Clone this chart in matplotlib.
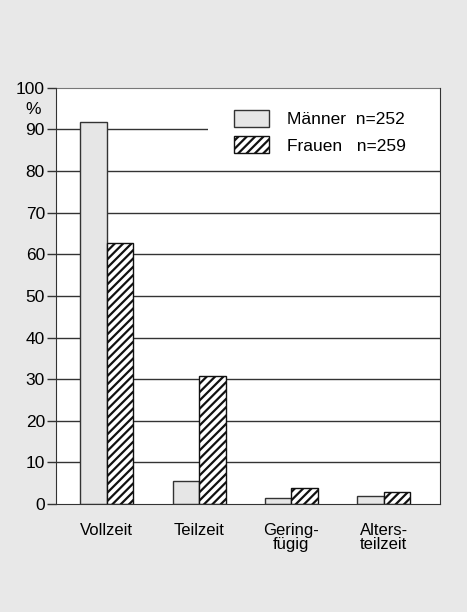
import matplotlib.pyplot as plt
from matplotlib.patches import Rectangle
import numpy as np

plt.rcParams['font.family'] = ['Liberation Sans', 'DejaVu Sans']
plt.rcParams['hatch.linewidth'] = 1.6

categories = ["Vollzeit", "Teilzeit", "Gering-\nfügig", "Alters-\nteilzeit"]
maenner = [91.7, 5.5, 1.4, 1.8]
frauen = [62.7, 30.8, 3.8, 2.8]
label_m = "Männer  n=252"
label_f = "Frauen   n=259"

fig = plt.figure(figsize=(4.67, 6.12), dpi=100, facecolor='#e8e8e8')
ax = fig.add_axes([0.12, 0.1765, 0.822, 0.68])
ax.set_facecolor('white')

x = np.arange(len(categories))
w = 0.287

# gridlines behind bars
for v in range(10, 100, 10):
    ax.axhline(v, color='#333333', lw=1.0, zorder=1)

# white patch behind the legend hides part of the 90 line
ax.add_patch(Rectangle((0.396, 0.815), 0.61, 0.18, transform=ax.transAxes,
                       facecolor='white', edgecolor='none', zorder=2))

ax.bar(x - w / 2, maenner, w, color='#e6e6e6', edgecolor='#333333',
       lw=1.0, zorder=3, label=label_m)
ax.bar(x + w / 2, frauen, w, color='white', edgecolor='#111111',
       hatch='////', lw=1.0, zorder=3, label=label_f)

ax.set_xlim(-0.55, 3.61)
ax.set_ylim(0, 100)
ax.set_yticks(range(0, 101, 10))
ax.set_xticks(x)
ax.set_xticklabels(categories, linespacing=0.85)
ax.tick_params(axis='x', length=0, pad=14, labelsize=12)
ax.tick_params(axis='y', length=6.5, width=1, direction='out', labelsize=12.5,
               color='#333333', pad=1.5)

for side in ['left', 'bottom', 'right']:
    ax.spines[side].set_color('#333333')
    ax.spines[side].set_zorder(6)
ax.spines['top'].set_color('#777777')

ax.text(-0.06, 0.947, "%", transform=ax.transAxes, fontsize=12.5,
        ha='center', va='center')

leg = ax.legend(loc='upper left', bbox_to_anchor=(0.4635, 0.947),
                fontsize=12.5, handlelength=2.0, handleheight=1.15,
                handletextpad=1.03, labelspacing=0.5, borderpad=0,
                borderaxespad=0, frameon=False)
leg.set_zorder(5)

fig.savefig('out.png', dpi=100, facecolor=fig.get_facecolor())
